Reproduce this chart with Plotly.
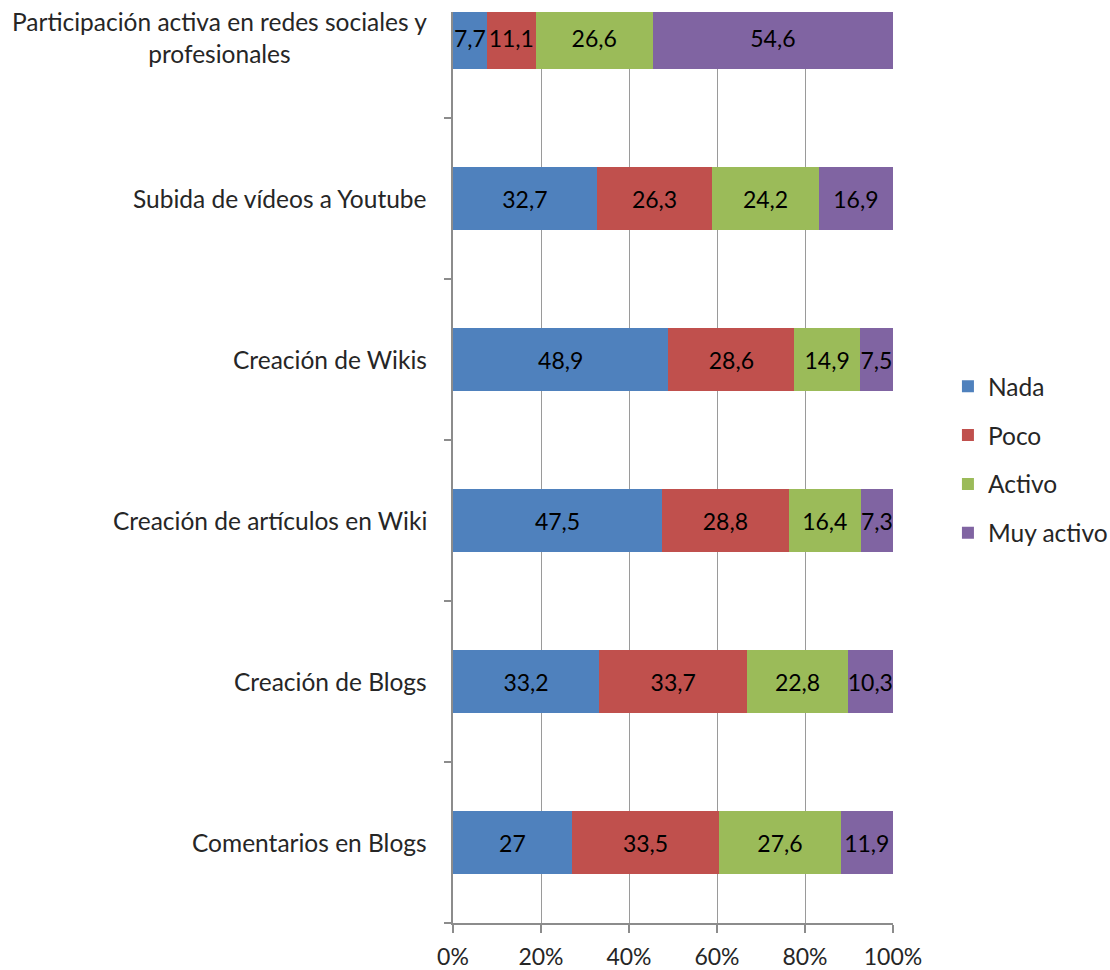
import plotly.graph_objects as go

# Activities, bottom to top
categories = [
    "Comentarios en Blogs",
    "Creación de Blogs",
    "Creación de artículos en Wiki",
    "Creación de Wikis",
    "Subida de vídeos a Youtube",
    "Participación activa en redes sociales y<br>profesionales",
]

series_names = ["Nada", "Poco", "Activo", "Muy activo"]
nada = [27, 33.2, 47.5, 48.9, 32.7, 7.7]
poco = [33.5, 33.7, 28.8, 28.6, 26.3, 11.1]
activo = [27.6, 22.8, 16.4, 14.9, 24.2, 26.6]
muy_activo = [11.9, 10.3, 7.3, 7.5, 16.9, 54.6]
series_values = [nada, poco, activo, muy_activo]

x_ticks = [0, 20, 40, 60, 80, 100]
x_tick_labels = ["0%", "20%", "40%", "60%", "80%", "100%"]

colors = ["#4F81BD", "#C0504D", "#9BBB59", "#8064A2"]
FONT = "Lato"
FS = 23
FS_CAT = 24.5


def fmt(v):
    return f"{v:g}".replace(".", ",")


fig = go.Figure()
for name, vals, col in zip(series_names, series_values, colors):
    fig.add_trace(go.Bar(
        y=categories,
        x=vals,
        name=name,
        orientation="h",
        marker=dict(color=col, line=dict(width=0)),
        text=[fmt(v) for v in vals],
        textposition="inside",
        insidetextanchor="middle",
        textangle=0,
        textfont=dict(family=FONT, size=FS, color="#000000"),
        legendgroup=name,
        cliponaxis=True,
    ))

# Category labels drawn as centred text blocks to the left of the axis
for cat in categories:
    fig.add_annotation(
        x=0, xref="paper", y=cat, yref="y",
        text=cat, showarrow=False,
        xanchor="right", yanchor="middle", align="center",
        xshift=-24,
        font=dict(family=FONT, size=FS_CAT, color="#262626"),
    )

fig.update_layout(
    width=1110, height=970,
    margin=dict(l=453, r=217, t=12, b=47, autoexpand=False),
    barmode="stack",
    barnorm="percent",
    bargap=0.606,
    plot_bgcolor="white",
    paper_bgcolor="white",
    uniformtext=dict(minsize=FS, mode="show"),
    font=dict(family=FONT, size=FS, color="#262626"),
    legend=dict(
        xref="container", yref="container",
        x=0.854, y=0.526, xanchor="left", yanchor="middle",
        traceorder="grouped", tracegroupgap=14,
        font=dict(family=FONT, size=FS_CAT, color="#262626"),
        bgcolor="rgba(0,0,0,0)",
    ),
    xaxis=dict(
        range=[0, 100],
        automargin=False,
        tickvals=x_ticks, ticktext=x_tick_labels,
        showgrid=True, gridcolor="#9A9A9A", gridwidth=1,
        showline=True, linecolor="#8C8C8C", linewidth=1.5,
        ticks="outside", ticklen=8, tickcolor="#8C8C8C", tickwidth=1.5,
        ticklabelstandoff=5,
        zeroline=False,
        tickfont=dict(family=FONT, size=FS, color="#262626"),
    ),
    yaxis=dict(
        type="category",
        automargin=False,
        categoryorder="array", categoryarray=categories,
        range=[-0.5, 5.16],
        showticklabels=False,
        tickson="boundaries",
        ticks="outside", ticklen=7, tickcolor="#8C8C8C", tickwidth=1.5,
        showline=True, linecolor="#8C8C8C", linewidth=1.5,
        showgrid=False, zeroline=False,
    ),
)

fig.write_html("out.html")
